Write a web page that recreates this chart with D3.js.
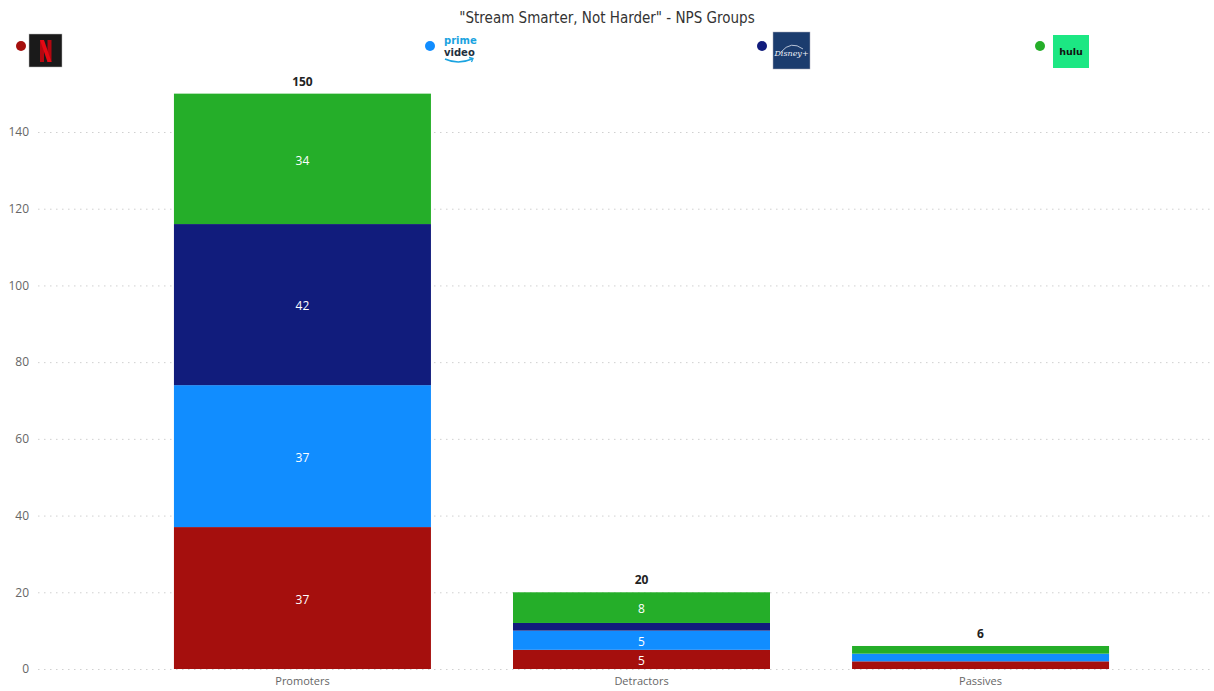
<!DOCTYPE html>
<html>
<head>
<meta charset="utf-8">
<script src="https://cdn.jsdelivr.net/npm/d3@7"></script>
<style>
  html, body { margin: 0; padding: 0; background: #fff; }
  svg { display: block; font-family: "Segoe UI", "Open Sans", "DejaVu Sans", sans-serif; }
</style>
</head>
<body>
<svg id="chart" width="1214" height="691"></svg>
<script>
// NPS groups by streaming service
const groups = ["Promoters", "Detractors", "Passives"];
const services = ["Netflix", "Prime Video", "Disney+", "Hulu"];
const netflix = [37, 5, 2];
const prime   = [37, 5, 2];
const disney  = [42, 2, 0];
const hulu    = [34, 8, 2];
const yTicks  = [0, 20, 40, 60, 80, 100, 120, 140];
const colors  = ["#A50F0D", "#118DFF", "#111C7C", "#25AE29"];

const seriesValues = [netflix, prime, disney, hulu];
const rows = groups.map((g, i) => {
  const r = { group: g };
  services.forEach((s, j) => r[s] = seriesValues[j][i]);
  return r;
});

const svg = d3.select("#chart");

const x = d3.scaleBand()
  .domain(groups)
  .range([39, 1244])
  .paddingInner(0.242)
  .paddingOuter(0.398);

const y = d3.scaleLinear()
  .domain([0, 140])
  .range([669, 132]);

// title
svg.append("text")
  .attr("x", 607).attr("y", 23)
  .attr("text-anchor", "middle")
  .attr("font-family", "'DejaVu Sans Condensed', 'Liberation Sans Narrow', 'Open Sans', sans-serif")
  .attr("font-size", 15)
  .attr("fill", "#333")
  .text("\"Stream Smarter, Not Harder\" - NPS Groups");

// gridlines
const grid = svg.append("g");
grid.selectAll("line").data(yTicks).join("line")
  .attr("x1", 38).attr("x2", 1212)
  .attr("y1", d => y(d) + 0.5).attr("y2", d => y(d) + 0.5)
  .attr("stroke", "#d0d0d0")
  .attr("stroke-width", 1)
  .attr("stroke-dasharray", "1.5,4.5");

// y axis labels
const yAxis = d3.axisLeft(y).tickValues(yTicks).tickSize(0).tickPadding(0);
const yg = svg.append("g").attr("transform", "translate(29,0)").call(yAxis);
yg.select(".domain").remove();
yg.selectAll("text")
  .attr("font-family", "'Segoe UI', 'Open Sans', sans-serif")
  .attr("font-size", 12).attr("fill", "#666");

// x axis labels
const xAxis = d3.axisBottom(x).tickSize(0).tickPadding(0);
const xg = svg.append("g").attr("transform", "translate(0,677)").call(xAxis);
xg.select(".domain").remove();
xg.selectAll("text")
  .attr("font-family", "'Segoe UI', 'Open Sans', sans-serif")
  .attr("font-size", 11).attr("fill", "#666");

// stacked bars
const stack = d3.stack().keys(services);
const layers = stack(rows);

const layerG = svg.append("g").selectAll("g").data(layers).join("g")
  .attr("fill", (d, i) => colors[i]);

layerG.selectAll("rect").data(d => d).join("rect")
  .attr("x", d => x(d.data.group))
  .attr("width", x.bandwidth())
  .attr("y", d => y(d[1]))
  .attr("height", d => y(d[0]) - y(d[1]));

// segment value labels (only where the segment is tall enough)
layerG.selectAll("text").data(d => d).join("text")
  .filter(d => y(d[0]) - y(d[1]) >= 14)
  .attr("x", d => x(d.data.group) + x.bandwidth() / 2)
  .attr("y", d => (y(d[0]) + y(d[1])) / 2 + 1.5)
  .attr("dy", "0.35em")
  .attr("text-anchor", "middle")
  .attr("font-size", 12)
  .attr("fill", "#fff")
  .text(d => d[1] - d[0]);

// totals
svg.append("g").selectAll("text").data(rows).join("text")
  .attr("x", d => x(d.group) + x.bandwidth() / 2)
  .attr("y", d => y(d3.sum(services, s => d[s])) - 8)
  .attr("text-anchor", "middle")
  .attr("font-size", 12)
  .attr("font-weight", "bold")
  .attr("fill", "#222")
  .text(d => d3.sum(services, s => d[s]));

// legend
const legend = svg.append("g");
const legendPos = [21, 430, 762, 1040];
legend.selectAll("circle").data(services).join("circle")
  .attr("cx", (d, i) => legendPos[i])
  .attr("cy", 46)
  .attr("r", 5)
  .attr("fill", (d, i) => colors[i]);

// Netflix mark
const nf = legend.append("g").attr("transform", "translate(29,34)");
nf.append("rect").attr("width", 33).attr("height", 33).attr("fill", "#1a1a1a").attr("stroke", "#bbb").attr("stroke-width", 0.5);
nf.append("rect").attr("x", 11).attr("y", 6).attr("width", 4).attr("height", 22).attr("fill", "#b20710");
nf.append("rect").attr("x", 18.5).attr("y", 6).attr("width", 4).attr("height", 22).attr("fill", "#b20710");
nf.append("path")
  .attr("d", "M11,6 L15,6 L22.5,28 L18.5,28 Z")
  .attr("fill", "#e50914");

// Prime Video mark
const pv = legend.append("g").attr("transform", "translate(444,34)");
pv.append("text").attr("x", 0).attr("y", 10)
  .attr("font-family", "'DejaVu Sans', sans-serif").attr("font-weight", "bold")
  .attr("font-size", 10).attr("fill", "#1aa3e0").text("prime");
pv.append("text").attr("x", 0).attr("y", 22)
  .attr("font-family", "'DejaVu Sans', sans-serif").attr("font-weight", "bold")
  .attr("font-size", 10).attr("fill", "#232f3e").text("video");
pv.append("path").attr("d", "M1,25 Q14,31 28,25").attr("fill", "none")
  .attr("stroke", "#1aa3e0").attr("stroke-width", 1.6);
pv.append("path").attr("d", "M25,23.5 L29,24.5 L27.5,28").attr("fill", "none")
  .attr("stroke", "#1aa3e0").attr("stroke-width", 1.3);

// Disney+ mark
const dp = legend.append("g").attr("transform", "translate(773,32)");
dp.append("rect").attr("width", 37).attr("height", 37).attr("fill", "#1b3c6e").attr("stroke", "#aab").attr("stroke-width", 0.5);
dp.append("path").attr("d", "M8,20 Q18,8 30,17").attr("fill", "none")
  .attr("stroke", "#dfe6f2").attr("stroke-width", 0.8);
dp.append("text").attr("x", 18.5).attr("y", 24).attr("text-anchor", "middle")
  .attr("font-family", "'DejaVu Serif', serif").attr("font-style", "italic")
  .attr("font-size", 8).attr("fill", "#eef2f8").text("Disney+");

// Hulu mark
const hl = legend.append("g").attr("transform", "translate(1053,35)");
hl.append("rect").attr("width", 36).attr("height", 33).attr("fill", "#1ce783");
hl.append("text").attr("x", 18).attr("y", 20).attr("text-anchor", "middle")
  .attr("font-family", "'DejaVu Sans', sans-serif").attr("font-weight", "bold")
  .attr("font-size", 9.5).attr("fill", "#111").text("hulu");
</script>
</body>
</html>
